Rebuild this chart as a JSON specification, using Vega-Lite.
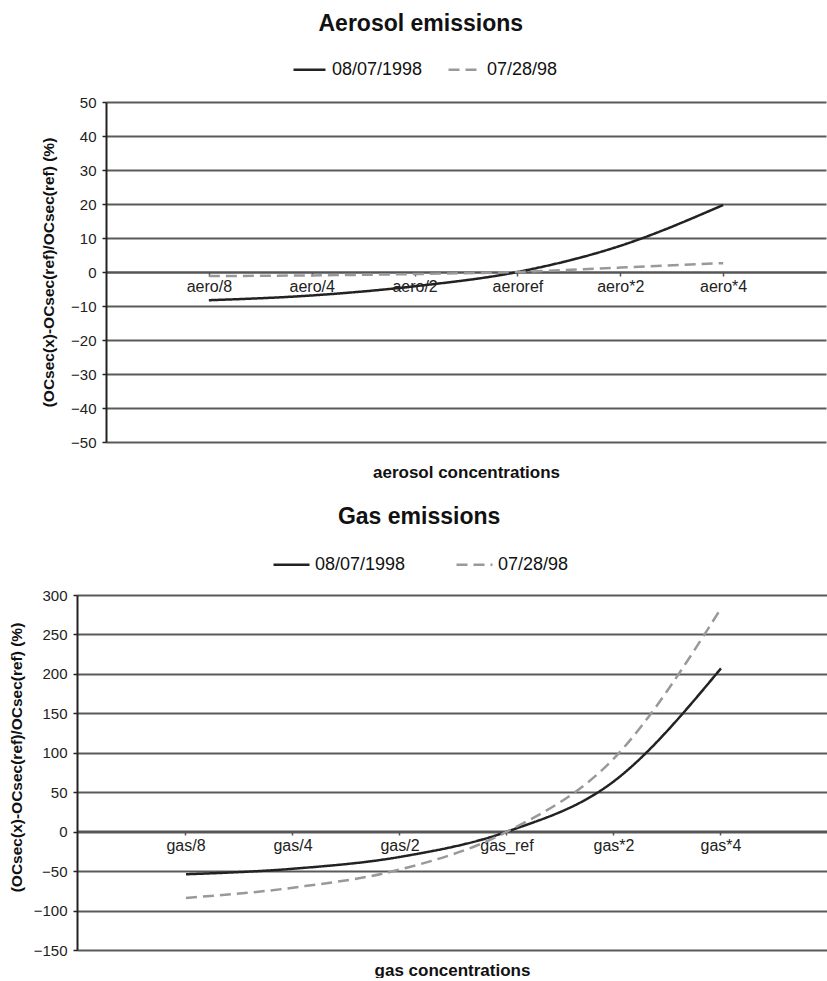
{
  "$schema": "https://vega.github.io/schema/vega-lite/v6.json",
  "background": "white",
  "padding": {"left": 9, "top": 13, "right": 0, "bottom": 0},
  "columns": 1,
  "center": true,
  "spacing": 26,
  "resolve": {"scale": {"color": "independent", "strokeDash": "independent", "x": "independent", "y": "independent"}},
  "datasets": {
    "aero": [
      {"level": "aero/8", "series": "08/07/1998", "value": -8.3},
      {"level": "aero/4", "series": "08/07/1998", "value": -6.9},
      {"level": "aero/2", "series": "08/07/1998", "value": -4.2},
      {"level": "aeroref", "series": "08/07/1998", "value": 0},
      {"level": "aero*2", "series": "08/07/1998", "value": 7.7},
      {"level": "aero*4", "series": "08/07/1998", "value": 19.7},
      {"level": "aero/8", "series": "07/28/98", "value": -1.2},
      {"level": "aero/4", "series": "07/28/98", "value": -1.0},
      {"level": "aero/2", "series": "07/28/98", "value": -0.6},
      {"level": "aeroref", "series": "07/28/98", "value": 0},
      {"level": "aero*2", "series": "07/28/98", "value": 1.3},
      {"level": "aero*4", "series": "07/28/98", "value": 2.6}
    ],
    "gas": [
      {"level": "gas/8", "series": "08/07/1998", "value": -54},
      {"level": "gas/4", "series": "08/07/1998", "value": -47},
      {"level": "gas/2", "series": "08/07/1998", "value": -32},
      {"level": "gas_ref", "series": "08/07/1998", "value": 0},
      {"level": "gas*2", "series": "08/07/1998", "value": 64},
      {"level": "gas*4", "series": "08/07/1998", "value": 207},
      {"level": "gas/8", "series": "07/28/98", "value": -84},
      {"level": "gas/4", "series": "07/28/98", "value": -71},
      {"level": "gas/2", "series": "07/28/98", "value": -48},
      {"level": "gas_ref", "series": "07/28/98", "value": 0},
      {"level": "gas*2", "series": "07/28/98", "value": 93},
      {"level": "gas*4", "series": "07/28/98", "value": 283}
    ]
  },
  "concat": [
    {
      "width": 720,
      "height": 340,
      "title": {"text": "Aerosol emissions", "fontSize": 23, "fontWeight": "bold", "anchor": "middle", "frame": "bounds", "offset": 16, "dx": -13, "color": "#111"},
      "data": {"name": "aero"},
      "mark": {"type": "line", "interpolate": "monotone", "strokeWidth": 2.5},
      "encoding": {
        "x": {
          "field": "level", "type": "ordinal",
          "sort": ["aero/8", "aero/4", "aero/2", "aeroref", "aero*2", "aero*4"],
          "scale": {"type": "point", "padding": 1},
          "axis": {
            "title": "aerosol concentrations", "titleFontSize": 17, "titleFontWeight": "bold", "titleColor": "#111",
            "titleBaseline": "middle", "titleY": 200,
            "offset": -170, "labelAngle": 0, "labelFontSize": 16, "labelColor": "#222",
            "tickSize": 4, "labelPadding": 2, "domainColor": "#555", "domainWidth": 2,
            "tickColor": "#555", "tickWidth": 1.5, "grid": false
          }
        },
        "y": {
          "field": "value", "type": "quantitative",
          "scale": {"domain": [-50, 50], "nice": false, "zero": false},
          "axis": {
            "values": [-50, -40, -30, -20, -10, 0, 10, 20, 30, 40, 50],
            "title": "(OCsec(x)-OCsec(ref)/OCsec(ref) (%)",
            "titleFontSize": 15.5, "titleFontWeight": "bold", "titleColor": "#111", "titlePadding": 14,
            "labelFontSize": 15, "labelColor": "#222", "tickSize": 4, "labelPadding": 6,
            "domainColor": "#222", "domainWidth": 2, "tickColor": "#222", "tickWidth": 1.5,
            "grid": true, "gridColor": "#5a5a5a", "gridWidth": 2
          }
        },
        "color": {
          "field": "series", "type": "nominal",
          "scale": {"domain": ["08/07/1998", "07/28/98"], "range": ["#222222", "#999999"]},
          "legend": {"title": " ", "titleOrient": "right", "titlePadding": 84, "titleFontSize": 8, "orient": "top", "direction": "horizontal", "symbolType": "stroke", "symbolSize": 1024, "symbolStrokeWidth": 2.5, "labelFontSize": 18, "labelColor": "#111", "labelOffset": 5, "columnPadding": 20, "offset": 23}
        },
        "strokeDash": {
          "field": "series", "type": "nominal",
          "scale": {"domain": ["08/07/1998", "07/28/98"], "range": [[1, 0], [11, 6]]},
          "legend": {"title": " ", "titleOrient": "right", "titlePadding": 84, "titleFontSize": 8, "orient": "top", "direction": "horizontal", "symbolType": "stroke", "symbolSize": 1024, "symbolStrokeWidth": 2.5, "labelFontSize": 18, "labelColor": "#111", "labelOffset": 5, "columnPadding": 20, "offset": 23}
        }
      }
    },
    {
      "width": 778,
      "height": 355,
      "title": {"text": "Gas emissions", "fontSize": 23, "fontWeight": "bold", "anchor": "middle", "frame": "bounds", "offset": 16, "dx": -13, "color": "#111"},
      "data": {"name": "gas"},
      "mark": {"type": "line", "interpolate": "monotone", "strokeWidth": 2.5},
      "encoding": {
        "x": {
          "field": "level", "type": "ordinal",
          "sort": ["gas/8", "gas/4", "gas/2", "gas_ref", "gas*2", "gas*4"],
          "scale": {"type": "band", "paddingInner": 0, "paddingOuter": 0.6355, "align": 0.408},
          "axis": {
            "title": "gas concentrations", "titleFontSize": 17, "titleFontWeight": "bold", "titleColor": "#111",
            "titleBaseline": "middle", "titleY": 139, "titleX": 375,
            "offset": -119, "labelAngle": 0, "labelFontSize": 16, "labelColor": "#222",
            "tickSize": 4, "labelPadding": 2, "domainColor": "#555", "domainWidth": 2,
            "tickColor": "#555", "tickWidth": 1.5, "grid": false, "bandPosition": 0.5
          }
        },
        "y": {
          "field": "value", "type": "quantitative",
          "scale": {"domain": [-150, 300], "nice": false, "zero": false},
          "axis": {
            "values": [-150, -100, -50, 0, 50, 100, 150, 200, 250, 300],
            "title": "(OCsec(x)-OCsec(ref)/OCsec(ref) (%)", "titleY": 162,
            "titleFontSize": 15.5, "titleFontWeight": "bold", "titleColor": "#111", "titlePadding": 9,
            "labelFontSize": 15, "labelColor": "#222", "tickSize": 4, "labelPadding": 6,
            "domainColor": "#222", "domainWidth": 2, "tickColor": "#222", "tickWidth": 1.5,
            "grid": true, "gridColor": "#5a5a5a", "gridWidth": 2
          }
        },
        "color": {
          "field": "series", "type": "nominal",
          "scale": {"domain": ["08/07/1998", "07/28/98"], "range": ["#222222", "#999999"]},
          "legend": {"title": " ", "titleOrient": "right", "titlePadding": 92, "titleFontSize": 8, "orient": "top", "direction": "horizontal", "symbolType": "stroke", "symbolSize": 1296, "symbolStrokeWidth": 2.5, "labelFontSize": 18, "labelColor": "#111", "labelOffset": 4, "columnPadding": 45, "offset": 21}
        },
        "strokeDash": {
          "field": "series", "type": "nominal",
          "scale": {"domain": ["08/07/1998", "07/28/98"], "range": [[1, 0], [11, 6]]},
          "legend": {"title": " ", "titleOrient": "right", "titlePadding": 92, "titleFontSize": 8, "orient": "top", "direction": "horizontal", "symbolType": "stroke", "symbolSize": 1296, "symbolStrokeWidth": 2.5, "labelFontSize": 18, "labelColor": "#111", "labelOffset": 4, "columnPadding": 45, "offset": 21}
        }
      }
    }
  ],
  "config": {
    "font": "Liberation Sans",
    "view": {"stroke": null},
    "legend": {"layout": {"top": {"anchor": "middle"}}}
  }
}
